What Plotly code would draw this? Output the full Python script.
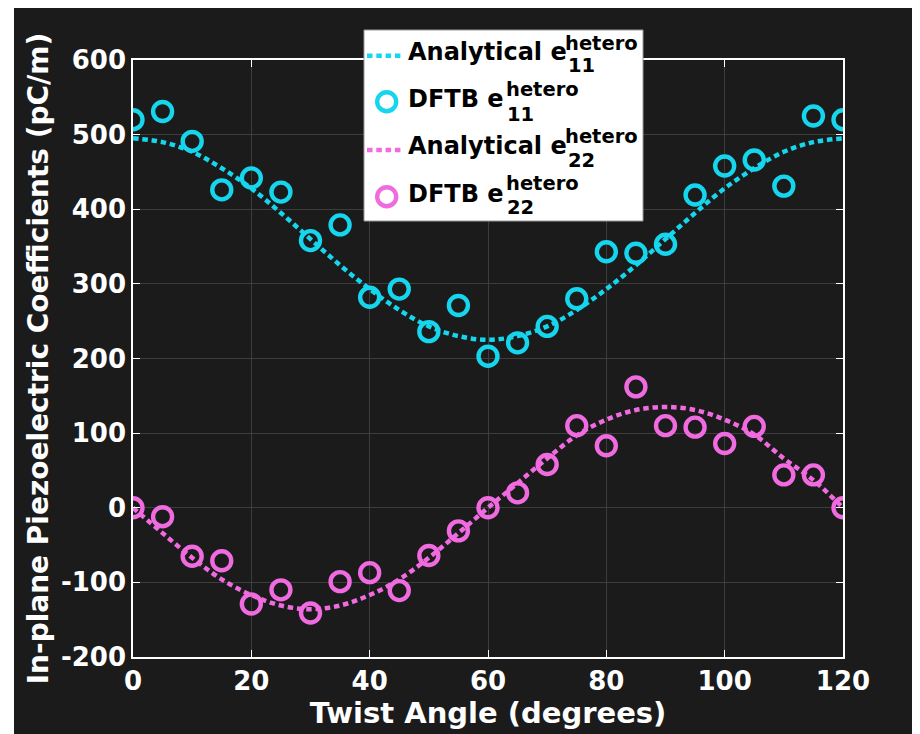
import plotly.graph_objects as go

# ---------------- data ----------------
angles = [0, 5, 10, 15, 20, 25, 30, 35, 40, 45, 50, 55, 60,
          65, 70, 75, 80, 85, 90, 95, 100, 105, 110, 115, 120]

analytical_e11 = [495, 490, 477, 455, 428, 395, 360, 325, 293, 265, 243, 230, 225,
                  230, 243, 265, 293, 325, 360, 395, 428, 455, 477, 490, 495]
dftb_e11 = [520, 531, 491, 426, 442, 423, 358, 379, 282, 293, 236, 271, 203,
            221, 243, 280, 343, 341, 353, 419, 458, 466, 431, 525, 520]

analytical_e22 = [0, -34, -67, -96, -117, -131, -136, -131, -117, -96, -67, -34, 0,
                  33, 66, 97, 118, 131, 135, 131, 118, 98, 66, 37, 0]
dftb_e22 = [0, -12, -65, -71, -129, -110, -141, -99, -87, -111, -64, -31, 0,
            20, 58, 110, 83, 162, 110, 108, 86, 109, 44, 44, 0]

x_ticks = [0, 20, 40, 60, 80, 100, 120]
y_ticks = [-200, -100, 0, 100, 200, 300, 400, 500, 600]

legend_main = ["Analytical e", "DFTB e", "Analytical e", "DFTB e"]
legend_sup = ["hetero", "hetero", "hetero", "hetero"]
legend_sub = ["11", "11", "22", "22"]

# ---------------- style ----------------
CYAN = "rgb(22,214,238)"
MAGENTA = "rgb(240,106,224)"
BG = "#1b1b1b"
GRID = "#3d3d3d"
FONT = "DejaVu Sans"
DASH = "5.5px,3.8px"

OFF = 8                      # page offset of the figure (body margin)
W, H = 912, 726
L, R, T, B = 125, 77, 52, 77
PW, PH = W - L - R, H - T - B


def px(xp):
    """page x pixel -> paper"""
    return (xp - OFF - L) / PW


def py(yp):
    """page y pixel -> paper"""
    return (H - B - (yp - OFF)) / PH


fig = go.Figure()

fig.add_trace(go.Scatter(x=angles, y=analytical_e11, mode="lines",
                         line=dict(color=CYAN, width=4.5, dash=DASH, shape="spline"),
                         name="Analytical e11", showlegend=False))
fig.add_trace(go.Scatter(x=angles, y=dftb_e11, mode="markers",
                         marker=dict(symbol="circle-open", size=19, color=CYAN,
                                     line=dict(width=4.4, color=CYAN)),
                         name="DFTB e11", showlegend=False))
fig.add_trace(go.Scatter(x=angles, y=analytical_e22, mode="lines",
                         line=dict(color=MAGENTA, width=4.5, dash=DASH, shape="spline"),
                         name="Analytical e22", showlegend=False))
fig.add_trace(go.Scatter(x=angles, y=dftb_e22, mode="markers",
                         marker=dict(symbol="circle-open", size=19, color=MAGENTA,
                                     line=dict(width=4.4, color=MAGENTA)),
                         name="DFTB e22", showlegend=False))

axis_common = dict(
    showgrid=True, gridcolor=GRID, gridwidth=1,
    showline=True, linecolor="white", linewidth=1.5, mirror="ticks",
    ticks="inside", ticklen=7, tickcolor="white", tickwidth=1.2,
    tickfont=dict(family=FONT, size=26, color="white", weight="bold"),
    zeroline=False,
)

fig.update_xaxes(range=[0, 120], tickvals=x_ticks, ticktext=[str(v) for v in x_ticks],
                 title=dict(text="Twist Angle (degrees)",
                            font=dict(family=FONT, size=29, color="white", weight="bold"),
                            standoff=4),
                 **axis_common)
fig.update_yaxes(range=[-200, 600], tickvals=y_ticks, ticktext=[str(v) for v in y_ticks],
                 title=dict(text="In-plane Piezoelectric Coefficients (pC/m)",
                            font=dict(family=FONT, size=28, color="white", weight="bold"),
                            standoff=4),
                 **axis_common)

shapes = []
# white strip at figure left edge
shapes.append(dict(type="rect", xref="paper", yref="paper",
                   x0=px(0), x1=px(14), y0=py(760), y1=py(0),
                   fillcolor="white", line=dict(width=0), layer="below"))

# legend box
shapes.append(dict(type="rect", xref="paper", yref="paper",
                   x0=px(364), x1=px(643), y0=py(221), y1=py(30),
                   fillcolor="white", line=dict(color="#9a9a9a", width=1), layer="above"))

row_sym_y = [55.7, 101.7, 150, 196.7]
row_colors = [CYAN, CYAN, MAGENTA, MAGENTA]
row_kind = ["line", "marker", "line", "marker"]
for yy, c, k in zip(row_sym_y, row_colors, row_kind):
    if k == "line":
        shapes.append(dict(type="line", xref="paper", yref="paper",
                           x0=px(367), x1=px(404), y0=py(yy), y1=py(yy),
                           line=dict(color=c, width=4.5, dash=DASH), layer="above"))
    else:
        shapes.append(dict(type="circle", xref="paper", yref="paper",
                           xsizemode="pixel", ysizemode="pixel",
                           xanchor=px(386.7), yanchor=py(yy),
                           x0=-9.5, x1=9.5, y0=-9.5, y1=9.5,
                           line=dict(color=c, width=4.4), layer="above"))

annotations = []
main_base = [61, 108, 155, 203]
sup_base = [51, 97, 144, 191]
sub_base = [73, 121.5, 168, 215]
sup_x = [564, 505, 564, 505]
sub_x = [567, 506, 567, 506]
MF, SF = 24, 19.5
for i in range(4):
    annotations.append(dict(text=legend_main[i], xref="paper", yref="paper",
                            x=px(406), y=py(main_base[i] - 0.36 * MF),
                            xanchor="left", yanchor="middle", showarrow=False,
                            font=dict(family=FONT, size=MF, color="black", weight="bold")))
    annotations.append(dict(text=legend_sup[i], xref="paper", yref="paper",
                            x=px(sup_x[i] - 1), y=py(sup_base[i] - 0.36 * SF),
                            xanchor="left", yanchor="middle", showarrow=False,
                            font=dict(family=FONT, size=SF, color="black", weight="bold")))
    annotations.append(dict(text=legend_sub[i], xref="paper", yref="paper",
                            x=px(sub_x[i] - 1), y=py(sub_base[i] - 0.36 * SF),
                            xanchor="left", yanchor="middle", showarrow=False,
                            font=dict(family=FONT, size=SF, color="black", weight="bold")))

fig.update_layout(
    width=W, height=H,
    margin=dict(l=L, r=R, t=T, b=B, autoexpand=False),
    paper_bgcolor=BG, plot_bgcolor=BG,
    showlegend=False,
    shapes=shapes, annotations=annotations,
    font=dict(family=FONT, color="white"),
)

fig.write_html("out.html")
